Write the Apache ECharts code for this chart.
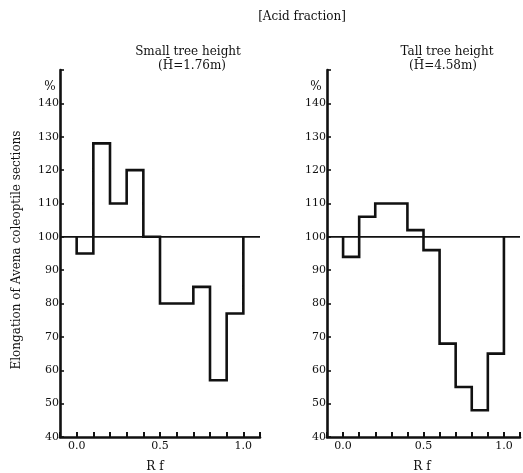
<!DOCTYPE html>
<html>
<head>
<meta charset="utf-8">
<script src="https://cdn.jsdelivr.net/npm/echarts@6/dist/echarts.min.js"></script>
<style>
html,body{margin:0;padding:0;background:#fff;}
#chart{width:523px;height:473px;}
</style>
</head>
<body>
<div id="chart"></div>
<script>
// ---- data ----
const binEdges = [0.0, 0.1, 0.2, 0.3, 0.4, 0.5, 0.6, 0.7, 0.8, 0.9, 1.0];
const smallTreeValues = [95, 128, 110, 120, 100, 80, 80, 85, 57, 77];
const tallTreeValues = [94, 106, 110, 110, 102, 96, 68, 55, 48, 65];
const controlValue = 100;
const xTickLabels = ['0.0', '0.5', '1.0'];
const yTickLabels = [40, 50, 60, 70, 80, 90, 100, 110, 120, 130, 140];
const mainTitle = '[Acid fraction]';
const panelTitles = ['Small tree height', 'Tall tree height'];
const panelSubtitles = ['(H\u0304=1.76m)', '(H\u0304=4.58m)'];
const yAxisTitle = 'Elongation of Avena coleoptile sections';
const xAxisTitle = 'R f';

function stepPoints(values) {
  const pts = [[binEdges[0], controlValue]];
  values.forEach((v, i) => {
    pts.push([binEdges[i], v]);
    pts.push([binEdges[i + 1], v]);
  });
  pts.push([binEdges[binEdges.length - 1], controlValue]);
  return pts;
}

const serif = '"DejaVu Serif", "Liberation Serif", serif';
const ink = '#111';

function xAxisCfg(gi) {
  return {
    type: 'value', gridIndex: gi, min: -0.1, max: 1.1, interval: 0.1,
    axisLine: { show: true, onZero: false, lineStyle: { color: ink, width: 2.6 } },
    axisTick: { show: true, inside: true, length: 5, lineStyle: { color: ink, width: 2 } },
    splitLine: { show: false },
    axisLabel: {
      showMinLabel: true, showMaxLabel: true, margin: 4,
      fontFamily: serif, fontSize: 11, color: ink,
      formatter: v => {
        const s = (Math.round(v * 10) / 10).toFixed(1);
        return xTickLabels.includes(s) ? s : '';
      }
    }
  };
}
function yAxisCfg(gi) {
  return {
    type: 'value', gridIndex: gi, min: 40, max: 150, interval: 10,
    axisLine: { show: true, onZero: false, lineStyle: { color: ink, width: 2.6 } },
    axisTick: { show: true, inside: true, length: 4, lineStyle: { color: ink, width: 1.6 } },
    splitLine: { show: false },
    axisLabel: {
      margin: 1, fontFamily: serif, fontSize: 11, color: ink,
      formatter: v => yTickLabels.includes(Math.round(v)) ? String(Math.round(v)) : ''
    }
  };
}
function panelSeries(values, gi) {
  return [
    {
      type: 'line', xAxisIndex: gi, yAxisIndex: gi, symbol: 'none', silent: true,
      data: [[-0.1, controlValue], [1.1, controlValue]],
      lineStyle: { color: ink, width: 1.8 }, z: 2
    },
    {
      type: 'line', xAxisIndex: gi, yAxisIndex: gi, symbol: 'none', silent: true,
      data: stepPoints(values),
      lineStyle: { color: ink, width: 2.6, join: 'miter' }, z: 3
    }
  ];
}

const chart = echarts.init(document.getElementById('chart'), null, { renderer: 'canvas' });
const option = {
  backgroundColor: '#fff',
  animation: false,
  grid: [
    { left: 60, top: 70, width: 200, height: 367 },
    { left: 327, top: 70, width: 200, height: 367 }
  ],
  xAxis: [xAxisCfg(0), xAxisCfg(1)],
  yAxis: [yAxisCfg(0), yAxisCfg(1)],
  series: [...panelSeries(smallTreeValues, 0), ...panelSeries(tallTreeValues, 1)],
  graphic: [
    { type: 'text', x: 302, y: 17, style: { text: mainTitle, font: '12px ' + serif, fill: ink, align: 'center', verticalAlign: 'middle' } },
    { type: 'text', x: 188, y: 52, style: { text: panelTitles[0], font: '12px ' + serif, fill: ink, align: 'center', verticalAlign: 'middle' } },
    { type: 'text', x: 192, y: 66, style: { text: panelSubtitles[0], font: '12px ' + serif, fill: ink, align: 'center', verticalAlign: 'middle' } },
    { type: 'text', x: 447, y: 52, style: { text: panelTitles[1], font: '12px ' + serif, fill: ink, align: 'center', verticalAlign: 'middle' } },
    { type: 'text', x: 443, y: 66, style: { text: panelSubtitles[1], font: '12px ' + serif, fill: ink, align: 'center', verticalAlign: 'middle' } },
    { type: 'text', x: 50, y: 87, style: { text: '%', font: '12px ' + serif, fill: ink, align: 'center', verticalAlign: 'middle' } },
    { type: 'text', x: 316, y: 87, style: { text: '%', font: '12px ' + serif, fill: ink, align: 'center', verticalAlign: 'middle' } },
    { type: 'text', x: 155, y: 467, style: { text: xAxisTitle, font: '12px ' + serif, fill: ink, align: 'center', verticalAlign: 'middle' } },
    { type: 'text', x: 422, y: 467, style: { text: xAxisTitle, font: '12px ' + serif, fill: ink, align: 'center', verticalAlign: 'middle' } },
    { type: 'text', x: 17, y: 250, rotation: Math.PI / 2, style: { text: yAxisTitle, font: '12px ' + serif, fill: ink, align: 'center', verticalAlign: 'middle' } }
  ]
};
chart.setOption(option);
</script>
</body>
</html>
